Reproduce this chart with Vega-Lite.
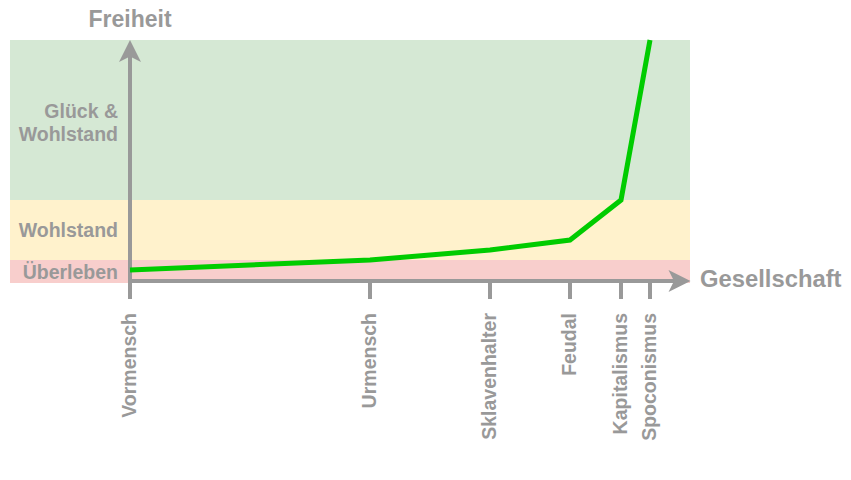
{
  "$schema": "https://vega.github.io/schema/vega-lite/v6.json",
  "width": 851,
  "height": 480,
  "autosize": "none",
  "padding": 0,
  "background": "white",
  "config": {"view": {"stroke": null}},
  "datasets": {
    "epochen": [
      {"epoche": "Vormensch", "pos": 0, "freiheit": 11},
      {"epoche": "Urmensch", "pos": 240, "freiheit": 21},
      {"epoche": "Sklavenhalter", "pos": 360, "freiheit": 31},
      {"epoche": "Feudal", "pos": 440, "freiheit": 41},
      {"epoche": "Kapitalismus", "pos": 491, "freiheit": 81},
      {"epoche": "Spoconismus", "pos": 520, "freiheit": 241}
    ],
    "zonen": [
      {"zone": "Überleben", "von": -2, "bis": 21},
      {"zone": "Wohlstand", "von": 21, "bis": 81},
      {"zone": "Glück &\nWohlstand", "von": 81, "bis": 241}
    ]
  },
  "layer": [
    {
      "data": {"name": "zonen"},
      "mark": {"type": "rect"},
      "encoding": {
        "x": {"datum": -120, "type": "quantitative", "scale": {"domain": [-130, 721], "nice": false, "zero": false}, "axis": null},
        "x2": {"datum": 560},
        "y": {"field": "von", "type": "quantitative", "scale": {"domain": [-199, 281], "nice": false, "zero": false}, "axis": null},
        "y2": {"field": "bis"},
        "color": {"field": "zone", "type": "nominal", "scale": {"domain": ["Überleben", "Wohlstand", "Glück &\nWohlstand"], "range": ["#f8cecc", "#fff2cc", "#d5e8d4"]}, "legend": null}
      }
    },
    {
      "data": {"name": "zonen"},
      "transform": [{"filter": "datum.zone !== 'Glück &\\nWohlstand'"}, {"calculate": "(datum.von + datum.bis) / 2", "as": "mitte"}],
      "mark": {"type": "text", "align": "right", "baseline": "middle", "font": "Liberation Sans", "fontWeight": "bold", "fontSize": 19.5, "fill": "#999999", "dy": 1},
      "encoding": {
        "x": {"datum": -12, "type": "quantitative", "scale": {"domain": [-130, 721], "nice": false, "zero": false}, "axis": null},
        "y": {"field": "mitte", "type": "quantitative", "scale": {"domain": [-199, 281], "nice": false, "zero": false}, "axis": null},
        "text": {"field": "zone"}
      }
    },
    {
      "data": {"name": "zonen"},
      "transform": [{"filter": "datum.zone === 'Glück &\\nWohlstand'"}, {"calculate": "(datum.von + datum.bis) / 2", "as": "mitte"}],
      "mark": {"type": "text", "align": "right", "baseline": "middle", "font": "Liberation Sans", "fontWeight": "bold", "fontSize": 19.5, "fill": "#999999", "lineBreak": "\n", "lineHeight": 23, "dy": -8.5},
      "encoding": {
        "x": {"datum": -12, "type": "quantitative", "scale": {"domain": [-130, 721], "nice": false, "zero": false}, "axis": null},
        "y": {"field": "mitte", "type": "quantitative", "scale": {"domain": [-199, 281], "nice": false, "zero": false}, "axis": null},
        "text": {"field": "zone"}
      }
    },
    {
      "data": {"name": "epochen"},
      "mark": {"type": "rule", "color": "#999999", "strokeWidth": 4},
      "encoding": {
        "x": {"field": "pos", "type": "quantitative", "scale": {"domain": [-130, 721], "nice": false, "zero": false}, "axis": null},
        "y": {"datum": 0, "type": "quantitative", "scale": {"domain": [-199, 281], "nice": false, "zero": false}, "axis": null},
        "y2": {"datum": -18}
      }
    },
    {
      "data": {"values": [{}]},
      "mark": {"type": "rule", "color": "#999999", "strokeWidth": 4},
      "encoding": {
        "x": {"datum": 0, "type": "quantitative", "scale": {"domain": [-130, 721], "nice": false, "zero": false}, "axis": null},
        "y": {"datum": -18, "type": "quantitative", "scale": {"domain": [-199, 281], "nice": false, "zero": false}, "axis": null},
        "y2": {"datum": 226}
      }
    },
    {
      "data": {"values": [{}]},
      "mark": {"type": "rule", "color": "#999999", "strokeWidth": 4},
      "encoding": {
        "x": {"datum": -2, "type": "quantitative", "scale": {"domain": [-130, 721], "nice": false, "zero": false}, "axis": null},
        "x2": {"datum": 545},
        "y": {"datum": 0, "type": "quantitative", "scale": {"domain": [-199, 281], "nice": false, "zero": false}, "axis": null}
      }
    },
    {
      "data": {"values": [{}]},
      "mark": {"type": "point", "shape": "M0,-1L1,1L0,0.5L-1,1Z", "size": 484, "filled": true, "fill": "#999999", "stroke": null, "opacity": 1},
      "encoding": {
        "x": {"datum": 0, "type": "quantitative", "scale": {"domain": [-130, 721], "nice": false, "zero": false}, "axis": null},
        "y": {"datum": 230, "type": "quantitative", "scale": {"domain": [-199, 281], "nice": false, "zero": false}, "axis": null}
      }
    },
    {
      "data": {"values": [{}]},
      "mark": {"type": "point", "shape": "M1,0L-1,-1L-0.5,0L-1,1Z", "size": 484, "filled": true, "fill": "#999999", "stroke": null, "opacity": 1},
      "encoding": {
        "x": {"datum": 549.5, "type": "quantitative", "scale": {"domain": [-130, 721], "nice": false, "zero": false}, "axis": null},
        "y": {"datum": 0, "type": "quantitative", "scale": {"domain": [-199, 281], "nice": false, "zero": false}, "axis": null}
      }
    },
    {
      "data": {"name": "epochen"},
      "mark": {"type": "line", "color": "#00cc00", "strokeWidth": 5},
      "encoding": {
        "x": {"field": "pos", "type": "quantitative", "scale": {"domain": [-130, 721], "nice": false, "zero": false}, "axis": null},
        "y": {"field": "freiheit", "type": "quantitative", "scale": {"domain": [-199, 281], "nice": false, "zero": false}, "axis": null},
        "order": {"field": "pos"}
      }
    },
    {
      "data": {"name": "epochen"},
      "mark": {"type": "text", "angle": 270, "align": "right", "baseline": "middle", "font": "Liberation Sans", "fontWeight": "bold", "fontSize": 19.5, "fill": "#999999"},
      "encoding": {
        "x": {"field": "pos", "type": "quantitative", "scale": {"domain": [-130, 721], "nice": false, "zero": false}, "axis": null},
        "y": {"datum": -32, "type": "quantitative", "scale": {"domain": [-199, 281], "nice": false, "zero": false}, "axis": null},
        "text": {"field": "epoche"}
      }
    },
    {
      "data": {"values": [{"titel": "Freiheit"}]},
      "mark": {"type": "text", "align": "center", "baseline": "middle", "font": "Liberation Sans", "fontWeight": "bold", "fontSize": 23, "fill": "#999999"},
      "encoding": {
        "x": {"datum": 0, "type": "quantitative", "scale": {"domain": [-130, 721], "nice": false, "zero": false}, "axis": null},
        "y": {"datum": 261, "type": "quantitative", "scale": {"domain": [-199, 281], "nice": false, "zero": false}, "axis": null},
        "text": {"field": "titel"}
      }
    },
    {
      "data": {"values": [{"titel": "Gesellschaft"}]},
      "mark": {"type": "text", "align": "left", "baseline": "middle", "font": "Liberation Sans", "fontWeight": "bold", "fontSize": 23.8, "fill": "#999999"},
      "encoding": {
        "x": {"datum": 570, "type": "quantitative", "scale": {"domain": [-130, 721], "nice": false, "zero": false}, "axis": null},
        "y": {"datum": 1, "type": "quantitative", "scale": {"domain": [-199, 281], "nice": false, "zero": false}, "axis": null},
        "text": {"field": "titel"}
      }
    }
  ]
}
